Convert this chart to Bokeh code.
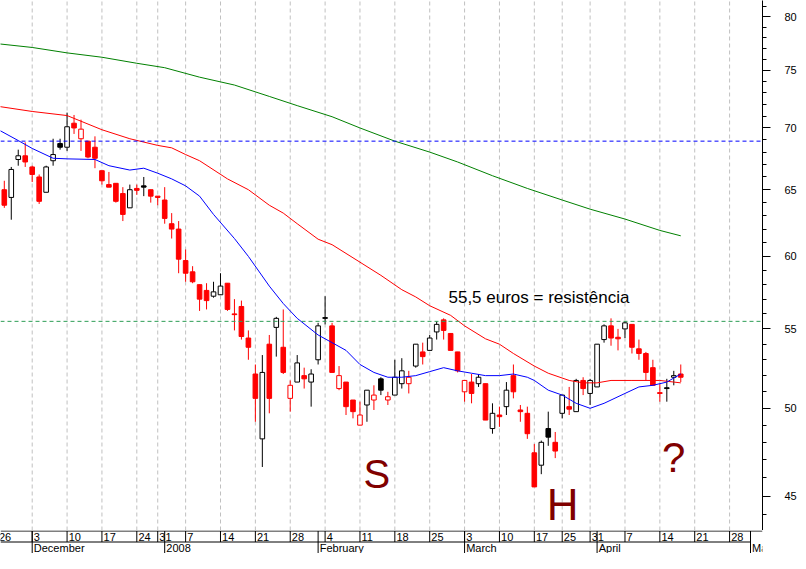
import pandas as pd
from bokeh.plotting import figure
from bokeh.layouts import column
from bokeh.models import Range1d, FixedTicker, Span, NumeralTickFormatter
from bokeh.core.properties import value
from bokeh.embed import file_html
from bokeh.resources import INLINE

# ---------------- trading calendar (Euronext Lisbon) ----------------
holidays = ["2007-12-25", "2007-12-26", "2008-01-01", "2008-03-21", "2008-03-24", "2008-05-01"]
trading_days = [d.strftime("%Y-%m-%d") for d in pd.bdate_range("2007-11-26", "2008-05-09")
                if d.strftime("%Y-%m-%d") not in holidays]
pos = {d: i for i, d in enumerate(trading_days)}

# ---------------- daily candles, 2007-11-27 .. 2008-04-17 ----------------
candle_start = "2007-11-27"
opens = [65.0, 64.4, 67.4, 67.7, 66.8, 66.0, 64.8, 67.3, 68.7, 68.4,
         70.4, 69.1, 68.9, 68.4, 66.5, 65.4, 65.5, 64.7, 63.6, 65.1,
         65.3, 65.0, 64.5, 64.2, 62.4, 62.0, 59.7, 58.9, 58.0, 57.6,
         57.2, 57.3, 58.1, 56.0, 56.5, 54.4, 52.1, 48.2, 54.0, 55.1,
         53.8, 50.6, 51.6, 52.0, 51.6, 53.0, 55.75, 55.2, 51.2, 51.6,
         50.5, 49.0, 50.2, 50.5, 51.8, 50.5, 50.8, 51.5, 51.5, 52.6,
         53.5, 53.6, 54.8, 55.6, 54.7, 53.5, 51.0, 51.6, 51.5, 51.5,
         48.8, 49.6, 50.1, 52.0, 49.9, 49.7, 47.4, 46.7, 48.8, 48.0,
         49.7, 50.1, 49.8, 51.7, 50.9, 51.3, 54.3, 55.2, 54.45, 55.0,
         55.3, 53.7, 53.4, 52.5, 50.95, 51.25, 51.9, 52.1]
highs = [65.7, 66.8, 68.2, 68.8, 66.9, 66.2, 66.9, 69.1, 69.1, 71.3,
         71.1, 70.7, 68.9, 69.3, 66.5, 66.4, 65.5, 65.2, 65.4, 65.4,
         66.0, 65.0, 64.5, 65.2, 63.2, 62.6, 60.5, 59.3, 58.0, 58.1,
         58.2, 58.8, 58.1, 57.0, 56.9, 54.9, 52.7, 53.3, 54.6, 55.8,
         56.3, 51.7, 53.3, 52.5, 52.4, 55.4, 57.2, 55.4, 52.6, 51.6,
         50.5, 50.4, 51.1, 51.4, 51.9, 51.0, 53.0, 53.1, 52.3, 54.0,
         54.1, 54.6, 55.5, 55.7, 54.7, 53.5, 51.7, 52.1, 52.1, 51.5,
         50.3, 50.1, 51.6, 52.7, 50.2, 50.1, 47.9, 48.1, 49.8, 48.6,
         50.8, 51.3, 51.8, 51.9, 51.8, 54.0, 55.3, 55.7, 55.0, 55.5,
         55.3, 54.3, 53.5, 53.0, 51.5, 51.8, 52.3, 52.7]
lows = [63.6, 62.7, 66.9, 66.8, 65.6, 63.9, 64.8, 66.9, 68.2, 68.1,
        69.5, 68.1, 67.5, 66.7, 65.4, 65.2, 64.0, 62.6, 63.6, 64.6,
        64.5, 64.0, 63.8, 62.4, 61.3, 58.8, 58.2, 58.1, 56.2, 56.3,
        57.1, 57.3, 56.2, 54.9, 54.3, 53.0, 49.2, 46.6, 49.7, 53.2,
        52.1, 49.8, 51.6, 51.2, 50.1, 52.7, 55.3, 52.2, 51.1, 49.6,
        49.4, 49.0, 49.2, 49.9, 50.8, 50.2, 50.8, 51.2, 50.9, 52.5,
        52.7, 53.6, 54.3, 54.3, 53.6, 52.2, 50.4, 50.3, 51.3, 49.3,
        48.5, 48.9, 49.6, 50.6, 49.2, 48.2, 45.5, 46.2, 47.8, 47.1,
        49.4, 49.6, 49.8, 50.8, 50.2, 51.3, 54.1, 53.9, 53.6, 54.4,
        53.4, 53.0, 51.7, 51.4, 50.4, 50.4, 51.4, 51.6]
closes = [63.8, 66.6, 67.7, 67.2, 66.2, 64.1, 66.8, 67.8, 68.4, 70.1,
          70.0, 69.9, 67.6, 67.5, 65.7, 65.2, 64.1, 63.1, 65.0, 64.95,
          65.2, 64.5, 64.4, 62.8, 62.0, 59.8, 58.8, 58.2, 57.0, 56.9,
          57.5, 57.9, 56.3, 55.95, 54.5, 53.8, 50.6, 52.2, 50.6, 55.7,
          52.2, 51.4, 52.8, 51.8, 52.1, 55.2, 55.7, 52.2, 52.0, 50.1,
          49.8, 49.6, 51.1, 50.8, 51.1, 50.7, 51.9, 52.3, 51.9, 54.0,
          53.2, 54.4, 55.3, 54.9, 53.6, 52.3, 51.7, 50.9, 51.9, 49.3,
          49.7, 49.5, 51.1, 51.0, 49.8, 48.5, 45.5, 48.0, 48.3, 47.5,
          50.8, 49.95, 51.7, 51.2, 51.7, 54.0, 55.2, 54.4, 54.35, 55.4,
          53.8, 53.4, 52.2, 51.4, 50.9, 51.2, 52.0, 51.9]
# r = down versus previous close (red), k = up (black)
colors = ["r", "k", "k", "r", "r", "r", "k", "k", "k", "k",
          "r", "r", "r", "r", "r", "r", "r", "r", "k", "r",
          "k", "r", "r", "r", "r", "r", "r", "r", "r", "r",
          "k", "k", "r", "r", "r", "r", "r", "k", "r", "k",
          "r", "r", "k", "r", "k", "k", "k", "r", "r", "r",
          "r", "r", "k", "r", "k", "r", "k", "k", "r", "k",
          "r", "k", "k", "r", "r", "r", "r", "r", "k", "r",
          "k", "r", "k", "r", "r", "r", "r", "k", "k", "r",
          "k", "r", "k", "r", "k", "k", "k", "r", "r", "k",
          "r", "r", "r", "r", "r", "k", "k", "r"]

# ---------------- moving averages ----------------
ma_short_dates = ["2007-11-26", "2007-11-29", "2007-12-03", "2007-12-06", "2007-12-10", "2007-12-14",
                  "2007-12-18", "2007-12-21", "2007-12-27", "2007-12-31", "2008-01-03", "2008-01-07",
                  "2008-01-09", "2008-01-11", "2008-01-16", "2008-01-18", "2008-01-23", "2008-01-25",
                  "2008-01-29", "2008-02-01", "2008-02-05", "2008-02-07", "2008-02-11", "2008-02-13",
                  "2008-02-15", "2008-02-19", "2008-02-21", "2008-02-25", "2008-02-27", "2008-02-29",
                  "2008-03-04", "2008-03-06", "2008-03-10", "2008-03-12", "2008-03-14", "2008-03-17",
                  "2008-03-19", "2008-03-25", "2008-03-27", "2008-03-31", "2008-04-02", "2008-04-07",
                  "2008-04-09", "2008-04-11", "2008-04-15", "2008-04-17"]
ma_short_vals = [69.9, 68.95, 68.3, 67.5, 67.45, 67.4, 66.9, 66.55, 66.7, 66.3, 65.85, 65.3,
                 64.5, 63.1, 61.3, 60.0, 57.9, 56.7, 55.7, 54.6, 54.1, 53.6, 52.7, 52.2,
                 51.9, 51.9, 52.0, 52.25, 52.5, 52.3, 52.15, 52.0, 52.0, 52.1, 51.9, 51.7,
                 51.1, 50.8, 50.3, 50.0, 50.3, 50.9, 51.3, 51.4, 51.6, 52.1]

ma_mid_dates = ["2007-11-26", "2007-12-03", "2007-12-10", "2007-12-17", "2007-12-21", "2007-12-31",
                "2008-01-03", "2008-01-07", "2008-01-09", "2008-01-15", "2008-01-18", "2008-01-23",
                "2008-01-25", "2008-01-29", "2008-02-01", "2008-02-05", "2008-02-08", "2008-02-14",
                "2008-02-19", "2008-02-21", "2008-02-25", "2008-02-28", "2008-03-03", "2008-03-06",
                "2008-03-10", "2008-03-12", "2008-03-17", "2008-03-19", "2008-03-26", "2008-03-28",
                "2008-04-01", "2008-04-03", "2008-04-08", "2008-04-14", "2008-04-17"]
ma_mid_vals = [71.85, 71.4, 71.05, 69.85, 69.1, 68.55, 68.35, 67.8, 67.3, 65.85, 65.0, 63.8,
               63.2, 62.4, 61.25, 60.85, 59.9, 58.65, 57.65, 57.15, 56.55, 55.9, 55.2, 54.35,
               54.0, 53.4, 52.6, 52.15, 51.7, 51.55, 51.55, 51.7, 51.7, 51.7, 51.55]

ma_long_dates = ["2007-11-26", "2007-12-03", "2007-12-10", "2007-12-17", "2007-12-24", "2008-01-02",
                 "2008-01-09", "2008-01-16", "2008-01-23", "2008-01-29", "2008-02-05", "2008-02-11",
                 "2008-02-18", "2008-02-25", "2008-02-29", "2008-03-07", "2008-03-14", "2008-03-25",
                 "2008-03-31", "2008-04-07", "2008-04-14", "2008-04-17"]
ma_long_vals = [77.45, 77.1, 76.6, 76.2, 75.65, 75.25, 74.4, 73.7, 72.7, 71.9, 70.95, 70.0,
                68.9, 68.0, 67.2, 66.1, 65.1, 64.2, 63.5, 62.75, 61.9, 61.5]

# horizontal reference levels
level_high = 68.9
level_resistance = 55.5

# ---------------- axis labels ----------------
week_dates = ["2007-11-26", "2007-12-03", "2007-12-10", "2007-12-17", "2007-12-24", "2007-12-31",
              "2008-01-07", "2008-01-14", "2008-01-21", "2008-01-28", "2008-02-04", "2008-02-11",
              "2008-02-18", "2008-02-25", "2008-03-03", "2008-03-10", "2008-03-17", "2008-03-25",
              "2008-03-31", "2008-04-07", "2008-04-14", "2008-04-21", "2008-04-28"]
week_labels = ["26", "3", "10", "17", "24", "31", "7", "14", "21", "28", "4", "11",
               "18", "25", "3", "10", "17", "25", "31", "7", "14", "21", "28"]
month_dates = ["2007-12-03", "2008-01-02", "2008-02-01", "2008-03-03", "2008-04-01", "2008-05-02"]
month_labels = ["December", "2008", "February", "March", "April", "May"]

price_ticks = [45, 50, 55, 60, 65, 70, 75, 80]
price_minor = [v for v in range(43, 82) if v % 5 != 0]

# ---------------- derived ----------------
first = pos[candle_start]
cx = list(range(first, first + len(opens)))
RED, BLK = "#FF0000", "#000000"
line_col = [RED if c == "r" else BLK for c in colors]
fill_col = ["#FFFFFF" if cl > op else lc for op, cl, lc in zip(opens, closes, line_col)]
tops = [max(o, c) for o, c in zip(opens, closes)]
bots = [min(o, c) for o, c in zip(opens, closes)]
wk = [pos[d] for d in week_dates]
mo = [pos[d] for d in month_dates]

X0, X1 = 0.455, 109.72
Y0, Y1 = 43.18, 81.57
FONT = value("Liberation Sans")

p = figure(frame_width=762, frame_height=530, x_range=Range1d(X0, X1), y_range=Range1d(Y0, Y1),
           y_axis_type="log", y_axis_location="right", x_axis_location=None,
           toolbar_location=None, output_backend="svg",
           min_border_left=0, min_border_right=36, min_border_top=0, min_border_bottom=0,
           outline_line_color=None, background_fill_color="white", border_fill_color="white")
p.xgrid.grid_line_color = None
p.ygrid.grid_line_color = None

# vertical weekly grid
p.segment(x0=wk, y0=[Y0] * len(wk), x1=wk, y1=[Y1] * len(wk),
          line_color="#C0C0C0", line_width=1, line_dash="4 3")

p.add_layout(Span(location=level_high, dimension="width", line_color="#0000FF",
                  line_width=1, line_dash="4 3"))
p.add_layout(Span(location=level_resistance, dimension="width", line_color="#2E9E55",
                  line_width=1, line_dash="4 3"))

# candles
p.segment(x0=cx, y0=lows, x1=cx, y1=highs, line_color=line_col, line_width=1)
p.vbar(x=cx, width=0.66, top=tops, bottom=bots, fill_color=fill_col,
       line_color=line_col, line_width=1)

# moving averages
p.line([pos[d] for d in ma_long_dates], ma_long_vals, line_color="#008000", line_width=1)
p.line([pos[d] for d in ma_mid_dates], ma_mid_vals, line_color="#FF0000", line_width=1)
p.line([pos[d] for d in ma_short_dates], ma_short_vals, line_color="#0000FF", line_width=1)

# annotations (positioned by their vertical middle)
p.text(x=[64.69], y=[57.13], text=["55,5 euros = resistência"], text_font=FONT,
       text_font_size="17px", text_color="#000000", text_align="left", text_baseline="middle")
p.text(x=[52.5], y=[46.23], text=["S"], text_font=FONT, text_font_size="40px",
       text_color="#800000", text_align="left", text_baseline="middle")
p.text(x=[78.8], y=[44.54], text=["H"], text_font=FONT, text_font_size="44px",
       text_color="#800000", text_align="left", text_baseline="middle")
p.text(x=[95.3], y=[47.13], text=["?"], text_font=FONT, text_font_size="42px",
       text_color="#800000", text_align="left", text_baseline="middle")

# right price axis
ax = p.yaxis[0]
ax.ticker = FixedTicker(ticks=price_ticks, minor_ticks=price_minor)
ax.formatter = NumeralTickFormatter(format="0")
ax.axis_line_color = "black"
ax.major_tick_line_color = "black"
ax.minor_tick_line_color = "black"
ax.major_tick_in = 0
ax.major_tick_out = 8
ax.minor_tick_in = 0
ax.minor_tick_out = 4
ax.major_label_standoff = 14
ax.major_label_text_font = "Liberation Sans"
ax.major_label_text_font_size = "11px"
ax.major_label_text_color = "#000000"

# ---------------- date strip ----------------
s = figure(frame_width=762, frame_height=23, x_range=p.x_range, y_range=Range1d(0, 23),
           x_axis_location=None, y_axis_location=None, toolbar_location=None, output_backend="svg",
           min_border_left=0, min_border_right=36, min_border_top=0, min_border_bottom=0,
           outline_line_color=None, background_fill_color="white", border_fill_color="white")
s.xgrid.grid_line_color = None
s.ygrid.grid_line_color = None
s.segment(x0=[X0], y0=[22.5], x1=[X1], y1=[22.5], line_color="black", line_width=1)
s.segment(x0=[X0], y0=[11.5], x1=[pos["2008-05-02"]], y1=[11.5], line_color="black", line_width=1)
s.segment(x0=wk, y0=[11.5] * len(wk), x1=wk, y1=[22.5] * len(wk), line_color="black", line_width=1)
s.segment(x0=mo, y0=[0] * len(mo), x1=mo, y1=[22.5] * len(mo), line_color="black", line_width=1)
s.text(x=[w + 0.23 for w in wk], y=[16.5] * len(wk), text=week_labels, text_font=FONT,
       text_font_size="11px", text_color="black", text_align="left", text_baseline="middle")
s.text(x=[m + 0.23 for m in mo], y=[5.5] * len(mo), text=month_labels, text_font=FONT,
       text_font_size="11px", text_color="black", text_align="left", text_baseline="middle")

layout = column(p, s)
open("out.html", "w").write(file_html(layout, INLINE))
